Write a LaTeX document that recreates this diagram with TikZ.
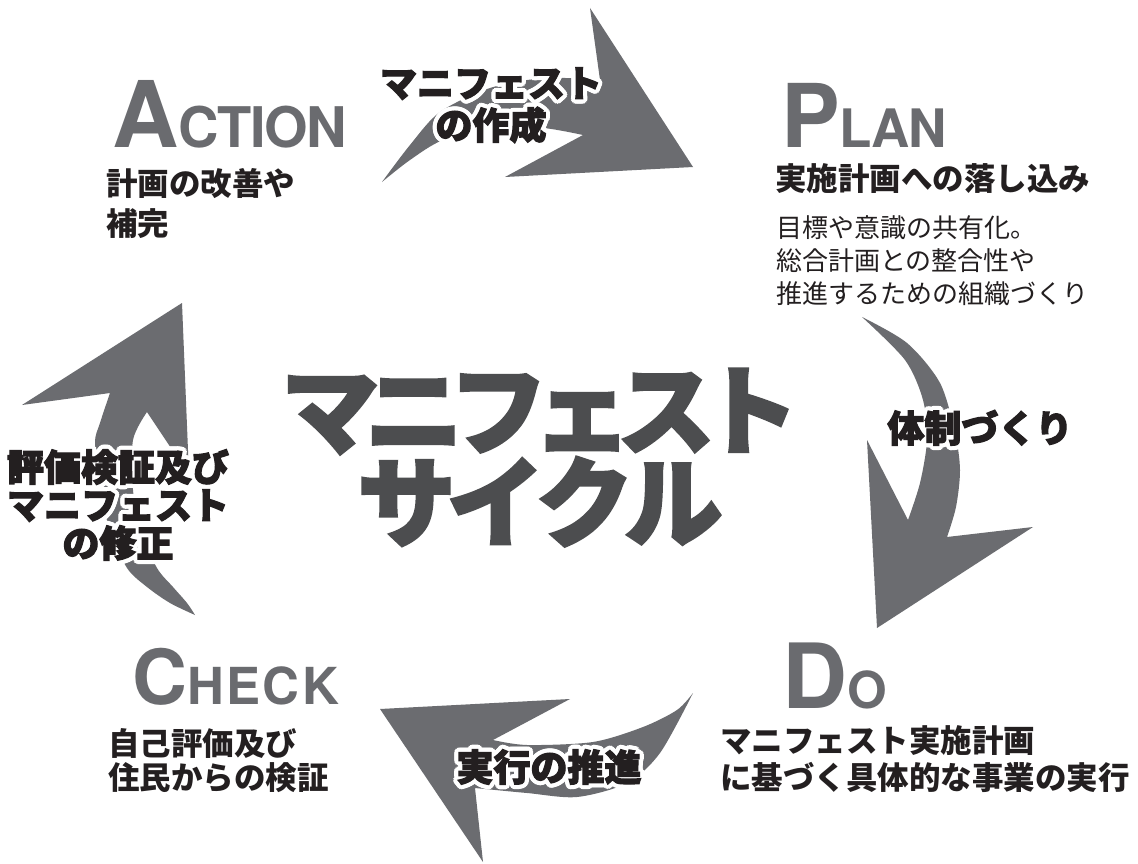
\documentclass[tikz,border=0pt]{standalone}
\usepackage{fontspec}
\newfontfamily\jp{Noto Sans CJK JP}
\newfontfamily\jplabel{Noto Sans CJK JP}[BoldFeatures={FakeBold=3}]
\newfontfamily\jptitle{Noto Sans CJK JP}[BoldFeatures={FakeBold=2.5}]
\newfontfamily\lat{TeX Gyre Heros}
\definecolor{arrowgray}{HTML}{6B6C70}
\definecolor{headgray}{HTML}{6A6B6F}
\definecolor{titlegray}{HTML}{4C4D4F}
\definecolor{textblack}{HTML}{231F20}
\newcommand\cstack[2]{\vtop{\baselineskip=#1\relax\lineskiplimit=-\maxdimen\lineskip=0pt\halign{\hfil##\hfil\cr#2\crcr}}}
\newcommand\lstack[2]{\vtop{\baselineskip=#1\relax\lineskiplimit=-\maxdimen\lineskip=0pt\halign{##\hfil\cr#2\crcr}}}
\newsavebox\halowhite
\newsavebox\haloblack
\newcommand\halo[1]{%
  \sbox\haloblack{\color{textblack}#1}%
  \sbox\halowhite{\color{white}#1}%
  \foreach \ang in {0,22.5,...,337.5}{%
    \pgfmathsetlengthmacro\hdx{4.2pt*cos(\ang)}%
    \pgfmathsetlengthmacro\hdy{4.2pt*sin(\ang)}%
    \makebox[0pt][l]{\hspace*{\hdx}\raisebox{\hdy}{\usebox\halowhite}}%
    \pgfmathsetlengthmacro\hdx{2.2pt*cos(\ang)}%
    \pgfmathsetlengthmacro\hdy{2.2pt*sin(\ang)}%
    \makebox[0pt][l]{\hspace*{\hdx}\raisebox{\hdy}{\usebox\halowhite}}%
  }%
  \usebox\haloblack}
\tikzset{
  arrowshape/.style={fill=arrowgray},
  head/.style={inner sep=0pt, anchor=base west, text=headgray, font=\lat\bfseries},
  jpbold/.style={inner sep=0pt, anchor=base west, text=textblack, font=\jp\bfseries\fontsize{31.5}{31.5}\selectfont},
  jpreg/.style={inner sep=0pt, anchor=base west, text=textblack, font=\jp\fontsize{26}{26}\selectfont},
  arrowlabel/.style={inner sep=0pt, anchor=base, font=\jplabel\bfseries\fontsize{37}{37}\selectfont},
  titletext/.style={inner sep=0pt, anchor=base, text=titlegray, font=\jptitle\bfseries\fontsize{98}{98}\selectfont}
}
\begin{document}
\begin{tikzpicture}[x=1pt,y=-1pt]
\useasboundingbox[fill=white] (0,0) rectangle (1138,864);

% arrows
\fill[arrowshape] (382,182) -- plot[smooth] coordinates {(382,182) (410,145) (440,112) (490,88) (545,78) (600,80)} -- (590,8) -- (693,167) -- (505,177) -- (583,135) -- plot[smooth] coordinates {(583,135) (543,128) (493,128) (443,140) (410,160) (382,182)} -- cycle;
\fill[arrowshape] (862,317) -- plot[smooth] coordinates {(862,317) (907,343) (940,383) (955,433) (960,470) (956,507) (947,537)} -- (1033,527) -- (877,628) -- (867,440) -- (908,520) -- plot[smooth] coordinates {(908,520) (920,483) (927,440) (923,400) (905,360) (862,317)} -- cycle;
\fill[arrowshape] (693,693) -- plot[smooth] coordinates {(693,693) (660,753) (627,783) (577,797) (527,793) (475,788)} -- (483,862) -- (380,709) -- (570,699) -- (493,740) -- plot[smooth] coordinates {(493,740) (527,745) (593,742) (643,727) (677,710) (693,693)} -- cycle;
\fill[arrowshape] (195,615) -- plot[smooth] coordinates {(195,615) (170,603) (147,587) (127,568) (110,530) (100,490) (95,443) (100,423) (110,393)} -- (22,405) -- (182,303) -- (189,475) -- (147,412) -- plot[smooth] coordinates {(147,412) (133,440) (133,490) (140,530) (157,568) (173,587) (187,603) (195,615)} -- cycle;

% center title
\node[titletext] (title1) at (540,447) {マ\kern-14ptニ\kern-14ptフ\kern-14ptェ\kern-14ptス\kern-14ptト};
\node[titletext] (title2) at (540,539) {サ\kern-9ptイ\kern-9ptク\kern-9ptル};

% headings
\node[head] (action) at (112,148) {\fontsize{92}{92}\selectfont A\fontsize{56}{56}\selectfont C\kern-1.5ptT\kern-1.5ptI\kern-1.5ptO\kern-1.5ptN};
\node[head] (plan) at (781,148) {\fontsize{88}{88}\selectfont P\fontsize{53}{53}\selectfont L\kern-1ptA\kern-1ptN};
\node[head] (check) at (132,704) {\fontsize{76}{76}\selectfont C\fontsize{51}{51}\selectfont H\kern2.5ptE\kern2.5ptC\kern2.5ptK};
\node[head] (do) at (782,708) {\fontsize{90}{90}\selectfont D\fontsize{51}{51}\selectfont O};

% descriptions
\node[jpbold] (actiontext) at (106,195) {\lstack{40pt}{計画の改善や\cr 補完}};
\node[jpbold] (plantext) at (775,190) {実施計画への落し込み};
\node[jpreg] (plandetail) at (776,237) {\lstack{33pt}{目標や意識の共有化。\cr 総合計画との整合性や\cr 推進するための組織づくり}};
\node[jpbold] (checktext) at (108,755) {\lstack{34pt}{自己評価及び\cr 住民からの検証}};
\node[jpbold] (dotext) at (720,752) {\lstack{37pt}{マニフェスト実施計画\cr に基づく具体的な事業の実行}};

% arrow labels
\node[arrowlabel] (labtop) at (491,97) {\halo{\cstack{42pt}{マニフェスト\cr の作成}}};
\node[arrowlabel] (labright) at (980,442) {\halo{体制づくり}};
\node[arrowlabel] (labbottom) at (549,781) {\halo{実行の推進}};
\node[arrowlabel] (lableft) at (118,481) {\halo{\cstack{38pt}{評価検証及び\cr マニフェスト\cr の修正}}};
\end{tikzpicture}
\end{document}
